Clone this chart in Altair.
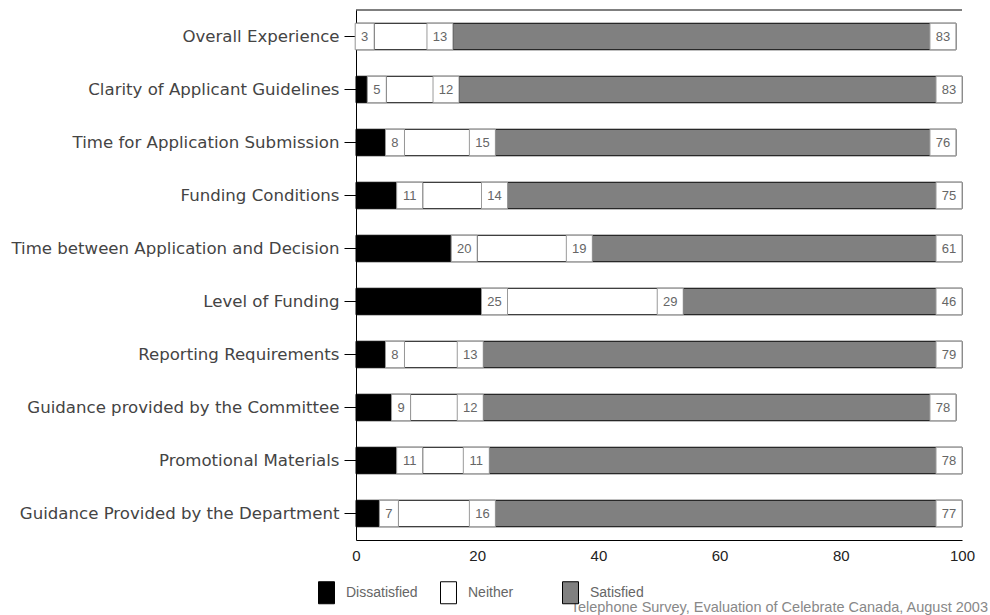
import altair as alt
import pandas as pd

# Survey items, top to bottom
categories = [
    "Overall Experience",
    "Clarity of Applicant Guidelines",
    "Time for Application Submission",
    "Funding Conditions",
    "Time between Application and Decision",
    "Level of Funding",
    "Reporting Requirements",
    "Guidance provided by the Committee",
    "Promotional Materials",
    "Guidance Provided by the Department",
]

# Percent of respondents per response group
dissatisfied = [3, 5, 8, 11, 20, 25, 8, 9, 11, 7]
neither = [13, 12, 15, 14, 19, 29, 13, 12, 11, 16]
satisfied = [83, 83, 76, 75, 61, 46, 79, 78, 78, 77]

groups = ["Dissatisfied", "Neither", "Satisfied"]
group_colors = ["#000000", "#ffffff", "#808080"]

x_ticks = [0, 20, 40, 60, 80, 100]
source_note = "Telephone Survey, Evaluation of Celebrate Canada, August 2003"

# Long table with the start/end of each stacked segment
rows = []
for i, cat in enumerate(categories):
    start = 0
    for g, vals in zip(groups, [dissatisfied, neither, satisfied]):
        v = vals[i]
        rows.append({"category": cat, "group": g, "value": v,
                     "start": start, "end": start + v})
        start += v
df = pd.DataFrame(rows)

W, H = 606, 530
FONT = "Liberation Sans"

y_enc = alt.Y(
    "category:N",
    sort=categories,
    scale=alt.Scale(paddingInner=0.5, paddingOuter=0.25),
    axis=alt.Axis(
        title=None, labelFontSize=16.6, labelColor="#444444", labelFont="DejaVu Sans",
        tickSize=12, tickColor="black", domainColor="black", labelPadding=5,
        labelLimit=400,
    ),
)
x_scale = alt.Scale(domain=[0, 100], nice=False)

base = alt.Chart(df)

segments = base.mark_bar(stroke="black", strokeWidth=1).encode(
    x=alt.X(
        "start:Q", scale=x_scale,
        axis=alt.Axis(
            title=None, values=x_ticks, ticks=False, grid=False,
            labelFontSize=15, labelColor="#222222", labelFont=FONT,
            labelPadding=8, domainColor="black", labelFlush=False,
        ),
    ),
    x2="end:Q",
    y=y_enc,
    fill=alt.Fill(
        "group:N",
        scale=alt.Scale(domain=groups, range=group_colors),
        legend=alt.Legend(
            title=None, orient="none", legendX=-41, legendY=571,
            direction="horizontal", gridAlign="all", columnPadding=19,
            symbolType="M-0.727,-1H0.727V1H-0.727Z", symbolSize=484,
            symbolStrokeColor="black", symbolStrokeWidth=1,
            labelFontSize=14, labelColor="#666666", labelFont=FONT,
            labelOffset=8,
        ),
    ),
)

# White value boxes sitting at the right end of each segment
def value_boxes(filter_expr, box_w):
    sub = base.transform_filter(filter_expr)
    box = sub.mark_bar(
        fill="white", stroke="#9a9a9a", strokeWidth=1, xOffset=-box_w
    ).encode(x=alt.X("end:Q", scale=x_scale), x2="end:Q", y=y_enc)
    txt = sub.mark_text(
        align="center", baseline="middle", dx=-box_w / 2, fontSize=13,
        color="#666666", font=FONT,
    ).encode(x=alt.X("end:Q", scale=x_scale), y=y_enc, text="value:Q")
    return box, txt

box1, txt1 = value_boxes("datum.value < 10", 19)
box2, txt2 = value_boxes("datum.value >= 10", 26)

frame_top = alt.Chart(pd.DataFrame({"k": [0]})).mark_rule(
    color="black", strokeWidth=1
).encode(x=alt.value(0), x2=alt.value(W), y=alt.value(0))

note = alt.Chart(pd.DataFrame({"t": [source_note]})).mark_text(
    align="right", baseline="middle", fontSize=14.5, color="#888888", font=FONT
).encode(x=alt.value(632), y=alt.value(598), text="t:N")

chart = alt.layer(
    segments, box1, box2, txt1, txt2, frame_top, note
).properties(
    width=W, height=H,
    background="white",
    autosize=alt.AutoSizeParams(type="none"),
    padding={"left": 356, "top": 10, "right": 28, "bottom": 75},
).configure_view(strokeWidth=0)

chart.save("out.html", embed_options={"renderer": "svg", "actions": False})
